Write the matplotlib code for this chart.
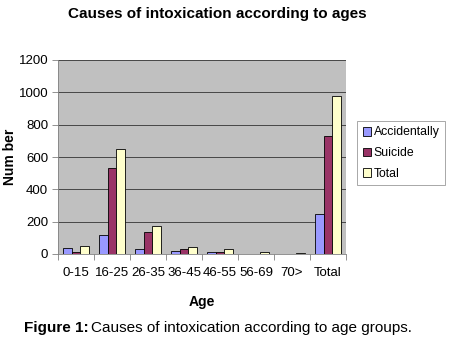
import numpy as np
import matplotlib.pyplot as plt

plt.rcParams['font.family'] = ['Liberation Sans', 'DejaVu Sans']

# data
age_groups = ['0-15', '16-25', '26-35', '36-45', '46-55', '56-69', '70>', 'Total']
accidentally = [40, 120, 32, 20, 13, 3, 2, 245]
suicide = [10, 530, 138, 33, 12, 3, 3, 730]
total = [50, 650, 175, 45, 28, 14, 5, 980]

series = [('Accidentally', accidentally, '#9999FF'),
          ('Suicide', suicide, '#993366'),
          ('Total', total, '#FFFFCC')]

fig = plt.figure(figsize=(4.49, 3.55), dpi=100)
ax = fig.add_axes([58 / 449, 1 - 254 / 355, 288 / 449, 194 / 355])
ax.set_facecolor('#C0C0C0')

x = np.arange(len(age_groups))
w = 0.24
for i, (name, vals, col) in enumerate(series):
    ax.bar(x + (i - 1) * w, vals, w, color=col, edgecolor='black',
           linewidth=0.6, label=name, zorder=3)

ax.set_xlim(-0.5, len(age_groups) - 0.5)
ax.set_ylim(0, 1200)
ax.set_yticks(range(0, 1201, 200))
ax.yaxis.grid(True, color='#333333', linewidth=0.6, zorder=0)
ax.set_xticks(x)
ax.set_xticklabels(age_groups)
ax.set_xticks(np.arange(-0.5, len(age_groups)), minor=True)
ax.tick_params(axis='x', which='major', length=0, labelsize=9.5, pad=9)
ax.tick_params(axis='x', which='minor', length=4, width=0.6, color='gray')
ax.tick_params(axis='y', length=4, width=0.6, labelsize=9.5, color='gray', pad=3)
for s in ['top', 'right']:
    ax.spines[s].set_visible(False)
for s in ['left', 'bottom']:
    ax.spines[s].set_color('gray')
    ax.spines[s].set_linewidth(0.6)

# axis titles
fig.text(10 / 449, 1 - 157 / 355, 'Num ber', rotation=90, ha='center',
         va='center', fontsize=10, fontweight='bold')
fig.text(202 / 449, 1 - 302 / 355, 'Age', ha='center', va='center',
         fontsize=10, fontweight='bold')

fig.text(217 / 449, 1 - 14 / 355, 'Causes of intoxication according to ages',
         ha='center', va='center', fontsize=11, fontweight='bold')

leg = fig.legend(loc='upper left', bbox_to_anchor=(357 / 449, 1 - 121 / 355),
                 fontsize=8.8, frameon=True, fancybox=False, edgecolor='gray',
                 handlelength=0.7, handleheight=0.7, handletextpad=0.2,
                 borderpad=0.45, labelspacing=0.7, borderaxespad=0)
leg.get_frame().set_linewidth(0.6)

fig.text(24 / 449, 1 - 328 / 355, 'Figure 1:', ha='left', va='center',
         fontsize=11, fontweight='bold')
fig.text(91 / 449, 1 - 328 / 355, 'Causes of intoxication according to age groups.',
         ha='left', va='center', fontsize=11)

fig.savefig('out.png', dpi=100)
